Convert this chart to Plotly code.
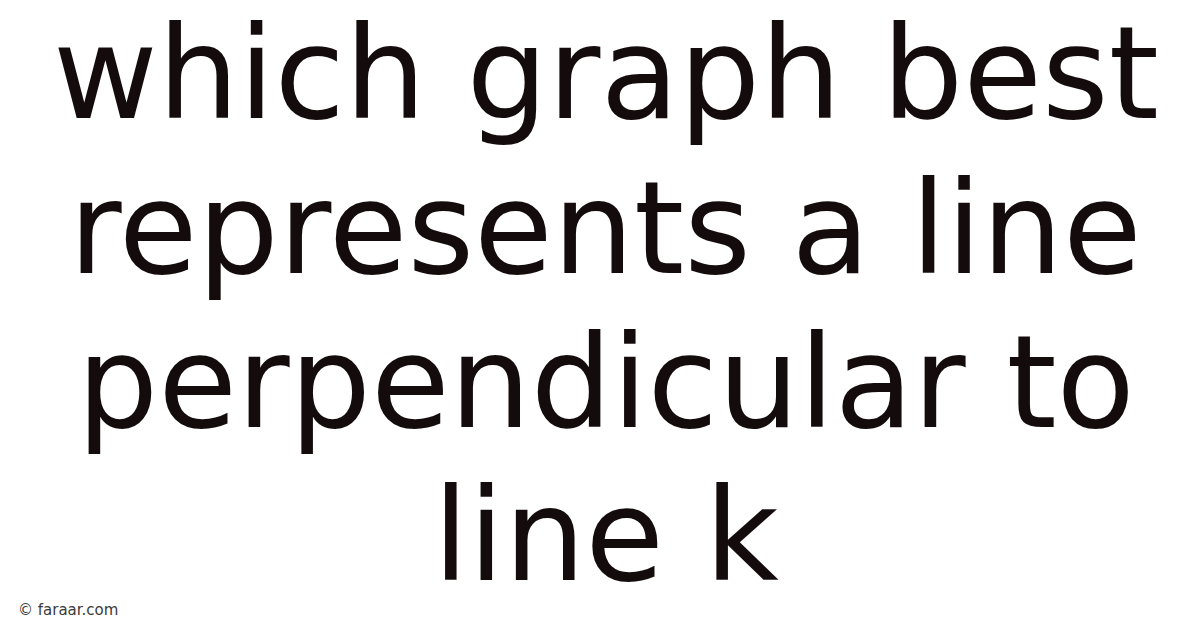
import plotly.graph_objects as go

# lines of the title, top to bottom
title_lines = ["which graph best", "represents a line", "perpendicular to", "line k"]
baselines_px = [121, 276, 430, 583]
watermark = "© faraar.com"

W, H = 1200, 628
font_size = 128
ink = "#140c0c"

fig = go.Figure()

for txt, base in zip(title_lines, baselines_px):
    # middle of the text box sits a bit above the baseline
    mid = base - 0.43 * font_size
    fig.add_annotation(
        text=txt, xref="paper", yref="paper",
        x=0.498, y=1 - mid / H, xanchor="center", yanchor="middle",
        showarrow=False,
        font=dict(family="DejaVu Sans", size=font_size, color=ink),
    )

fig.add_annotation(
    text=watermark, xref="paper", yref="paper",
    x=8 / W, y=1 - 602 / H, xanchor="left", yanchor="middle",
    showarrow=False,
    font=dict(family="DejaVu Sans", size=15, color="#3a3a3a"),
)

fig.update_layout(
    width=W, height=H,
    margin=dict(l=0, r=0, t=0, b=0),
    paper_bgcolor="white", plot_bgcolor="white",
    xaxis=dict(visible=False), yaxis=dict(visible=False),
    showlegend=False,
)

fig.write_html("out.html")
